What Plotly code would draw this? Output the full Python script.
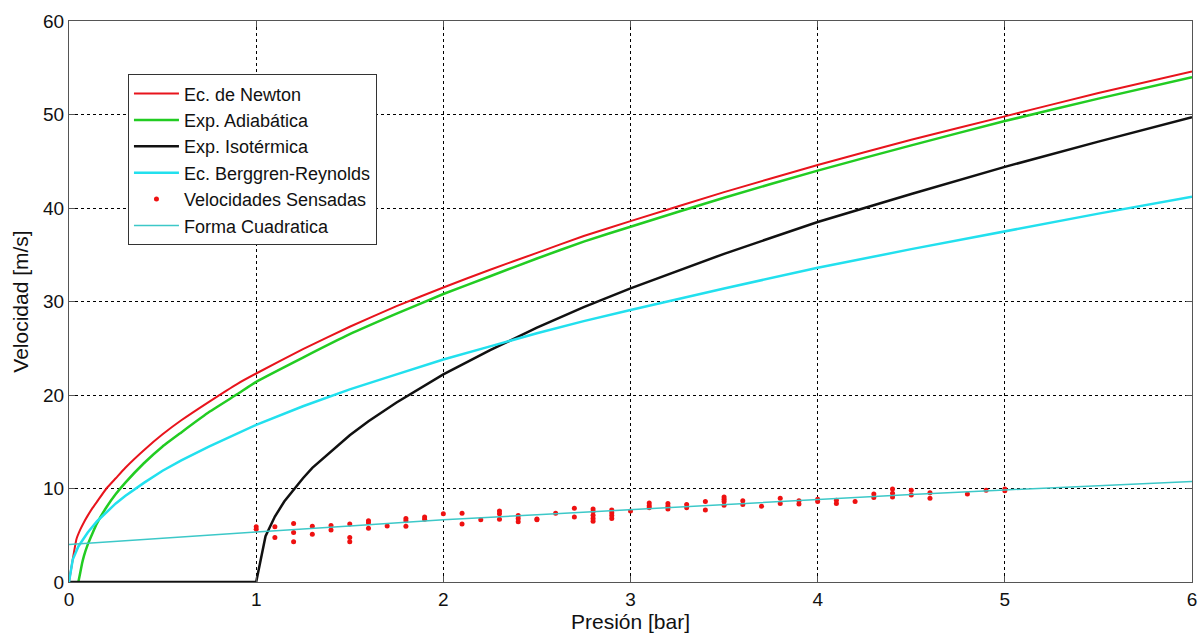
import plotly.graph_objects as go

# ---- Data ----
p_newton = [0, 0.04, 0.06, 0.08, 0.1, 0.125, 0.15, 0.2, 0.25, 0.3, 0.4, 0.5, 0.6, 0.75, 0.9, 1,
            1.25, 1.5, 1.75, 2, 2.25, 2.5, 2.75, 3, 3.5, 4, 4.5, 5, 5.5, 6]
v_newton = [0, 4.6, 5.6, 6.4, 7.1, 7.9, 8.6, 10.0, 11.1, 12.2, 14.1, 15.8, 17.3, 19.3, 21.2, 22.3,
            24.9, 27.3, 29.5, 31.5, 33.4, 35.2, 37.0, 38.6, 41.7, 44.6, 47.3, 49.8, 52.3, 54.6]

p_adiab = [0.05, 0.06, 0.07, 0.08, 0.1, 0.125, 0.15, 0.2, 0.25, 0.3, 0.4, 0.5, 0.6, 0.75, 0.9, 1,
           1.25, 1.5, 1.75, 2, 2.25, 2.5, 2.75, 3, 3.5, 4, 4.5, 5, 5.5, 6]
v_adiab = [0, 1.0, 2.0, 2.8, 4.0, 5.2, 6.3, 8.0, 9.4, 10.6, 12.7, 14.5, 16.0, 18.2, 20.1, 21.4,
           24.0, 26.5, 28.7, 30.8, 32.7, 34.6, 36.4, 38.0, 41.1, 44.0, 46.7, 49.3, 51.7, 54.0]

p_isot = [0, 1, 1.05, 1.1, 1.15, 1.2, 1.25, 1.3, 1.4, 1.5, 1.6, 1.75, 2, 2.25, 2.5, 2.75, 3,
          3.5, 4, 4.5, 5, 5.5, 6]
v_isot = [0, 0, 4.9, 7.0, 8.6, 9.9, 11.1, 12.2, 14.0, 15.7, 17.2, 19.2, 22.2, 24.8, 27.2, 29.4, 31.4,
          35.1, 38.5, 41.5, 44.4, 47.1, 49.7]

p_br = [0, 0.02, 0.05, 0.08, 0.1, 0.15, 0.2, 0.25, 0.3, 0.4, 0.5, 0.6, 0.75, 0.9, 1,
        1.25, 1.5, 1.75, 2, 2.25, 2.5, 2.75, 3, 3.5, 4, 4.5, 5, 5.5, 6]
v_br = [0, 2.4, 3.8, 4.75, 5.3, 6.5, 7.5, 8.4, 9.2, 10.6, 11.9, 13.0, 14.5, 15.9, 16.8,
        18.8, 20.6, 22.2, 23.8, 25.2, 26.6, 27.9, 29.1, 31.4, 33.6, 35.6, 37.5, 39.4, 41.2]

p_quad = [0, 0.5, 1, 1.5, 2, 2.5, 3, 3.5, 4, 4.5, 5, 5.5, 6]
v_quad = [4.0, 4.7, 5.35, 6.0, 6.65, 7.2, 7.75, 8.3, 8.85, 9.35, 9.85, 10.3, 10.75]

p_meas = [1.0, 1.0, 1.1, 1.1, 1.2, 1.2, 1.2, 1.3, 1.3, 1.4, 1.4, 1.5, 1.5, 1.5,
          1.6, 1.6, 1.6, 1.7, 1.8, 1.8, 1.8, 1.9, 1.9, 2.0,
          2.1, 2.1, 2.2, 2.3, 2.3, 2.3, 2.4, 2.4, 2.4, 2.5, 2.5, 2.6,
          2.7, 2.7, 2.8, 2.8, 2.8, 2.8, 2.8, 2.9, 2.9, 2.9, 2.9, 3.0,
          3.1, 3.1, 3.1, 3.2, 3.2, 3.2, 3.3, 3.3, 3.4, 3.4,
          3.5, 3.5, 3.5, 3.5, 3.6, 3.6, 3.7, 3.8, 3.8, 3.9, 3.9,
          4.0, 4.0, 4.1, 4.1, 4.2, 4.3, 4.3, 4.4, 4.4, 4.4, 4.5, 4.5,
          4.6, 4.6, 4.8, 4.9, 5.0, 5.0]
v_meas = [5.9, 5.65, 5.9, 4.75, 6.25, 5.3, 4.3, 5.95, 5.1, 6.05, 5.55, 6.2, 4.75, 4.3,
          6.55, 6.35, 5.75, 6.0, 6.8, 6.55, 5.95, 6.95, 6.7, 7.3,
          7.35, 6.2, 6.65, 7.6, 7.3, 6.7, 7.1, 6.8, 6.45, 6.75, 6.65, 7.35,
          7.9, 6.95, 7.8, 7.55, 7.15, 6.8, 6.5, 7.7, 7.4, 7.1, 6.8, 7.6,
          8.45, 8.15, 7.95, 8.4, 8.1, 7.8, 8.3, 7.95, 8.6, 7.7,
          9.1, 8.85, 8.6, 8.2, 8.7, 8.3, 8.1, 8.95, 8.4, 8.7, 8.35,
          8.85, 8.6, 8.75, 8.4, 8.6, 9.4, 9.05, 9.95, 9.5, 9.1, 9.8, 9.3,
          9.55, 8.95, 9.4, 9.8, 9.95, 9.75]

x_ticks = [0, 1, 2, 3, 4, 5, 6]
y_ticks = [0, 10, 20, 30, 40, 50, 60]

FONT = "Liberation Sans, Arial, sans-serif"

fig = go.Figure()
fig.add_trace(go.Scatter(x=p_newton, y=v_newton, mode="lines", name="Ec. de Newton",
                         line=dict(color="#e8141c", width=2, shape="spline", smoothing=0.4)))
fig.add_trace(go.Scatter(x=p_adiab, y=v_adiab, mode="lines", name="Exp. Adiabática",
                         line=dict(color="#22cc22", width=2.5, shape="spline", smoothing=0.4)))
fig.add_trace(go.Scatter(x=p_isot, y=v_isot, mode="lines", name="Exp. Isotérmica",
                         line=dict(color="#111111", width=2.5), cliponaxis=False))
fig.add_trace(go.Scatter(x=p_br, y=v_br, mode="lines", name="Ec. Berggren-Reynolds",
                         line=dict(color="#22e0ee", width=2.5)))
fig.add_trace(go.Scatter(x=p_meas, y=v_meas, mode="markers", name="Velocidades Sensadas",
                         marker=dict(color="#ee1111", size=5)))
fig.add_trace(go.Scatter(x=p_quad, y=v_quad, mode="lines", name="Forma Cuadratica",
                         line=dict(color="#3cc8c8", width=1.5)))

axis_common = dict(
    showline=True, linecolor="#555555", linewidth=1.2, mirror="ticks",
    ticks="inside", ticklen=6, tickcolor="#555555",
    showgrid=True, gridcolor="#000000", gridwidth=1, griddash="3px,3px",
    zeroline=False, tickfont=dict(family=FONT, size=19, color="#111111"),
)

fig.update_xaxes(range=[0, 6], tickvals=x_ticks, ticktext=[str(t) for t in x_ticks],
                 title=dict(text="Presión [bar]", font=dict(family=FONT, size=21, color="#111111"), standoff=4),
                 **axis_common)
fig.update_yaxes(range=[0, 60], tickvals=y_ticks, ticktext=[str(t) for t in y_ticks],
                 title=dict(text="Velocidad [m/s]", font=dict(family=FONT, size=21, color="#111111"), standoff=8),
                 **axis_common)

fig.update_layout(
    width=1199, height=633,
    margin=dict(l=69, r=7, t=21, b=51, autoexpand=False),
    paper_bgcolor="white", plot_bgcolor="white",
    font=dict(family=FONT, color="#111111"),
    legend=dict(x=0.0525, y=0.905, xanchor="left", yanchor="top",
                bgcolor="white", bordercolor="#333333", borderwidth=1,
                font=dict(family=FONT, size=18, color="#111111"),
                itemwidth=45, traceorder="normal",
                entrywidth=215, entrywidthmode="pixels"),
    showlegend=True,
)

fig.write_html("out.html")
